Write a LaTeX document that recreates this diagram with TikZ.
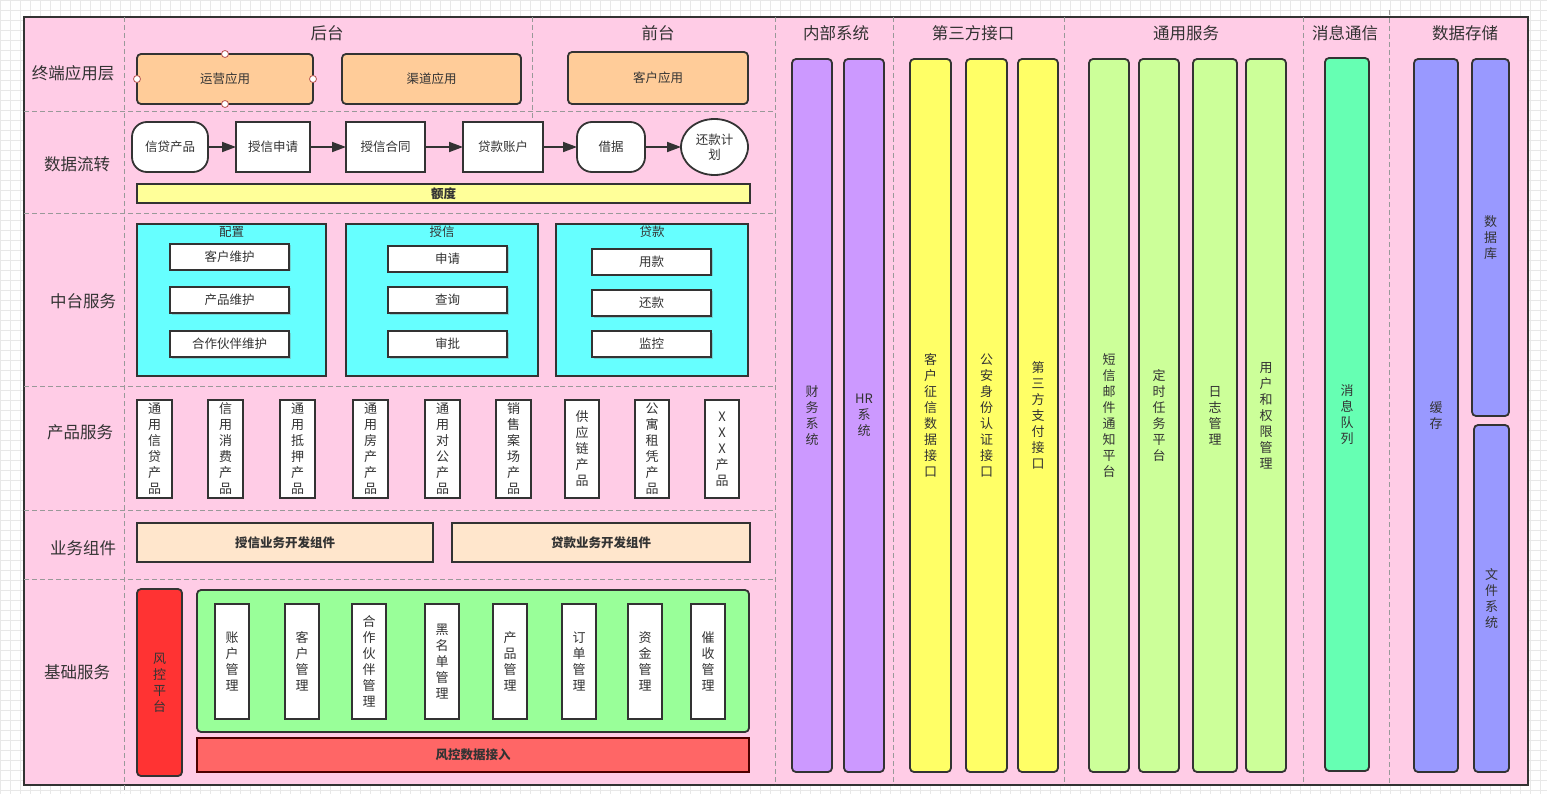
\documentclass[tikz,border=0pt]{standalone}
\usepackage{fontspec}
\setmainfont{Noto Sans CJK SC}
\usetikzlibrary{arrows.meta,shapes.geometric,shadows}
\definecolor{pinkbg}{HTML}{FFCCE6}
\definecolor{ln}{HTML}{333333}
\definecolor{txt}{HTML}{333333}
\definecolor{dshc}{HTML}{999999}
\definecolor{gridc}{HTML}{E8E8E8}
\definecolor{orng}{HTML}{FFCC99}
\definecolor{lyel}{HTML}{FFFF99}
\definecolor{cyn}{HTML}{66FFFF}
\definecolor{peach}{HTML}{FFE6CC}
\definecolor{redA}{HTML}{FF3333}
\definecolor{grn}{HTML}{99FF99}
\definecolor{redB}{HTML}{FF6666}
\definecolor{redBln}{HTML}{4D0000}
\definecolor{purp}{HTML}{CC99FF}
\definecolor{yel}{HTML}{FFFF66}
\definecolor{lime}{HTML}{CCFF99}
\definecolor{mint}{HTML}{66FFB3}
\definecolor{blu}{HTML}{9999FF}
\definecolor{hnd}{HTML}{B85450}
\newcommand\fs{\fontsize{12.5}{15}\selectfont}
\newcommand\fv{\fontsize{13}{16}\selectfont}
\newcommand\fl{\fontsize{16.5}{20}\selectfont}
\newcommand\B[7]{\node[#1,anchor=north west,minimum width=#4pt-#2pt,minimum height=#5pt-#3pt] (#6) at (#2,#3) {#7};}
\tikzset{
  bx/.style={draw=ln, line width=1.8pt, outer sep=0pt, inner sep=0pt, text=txt, font=\fs, align=center},
  rbx/.style={bx, rounded corners=4pt},
  vbx/.style={bx, font=\fv},
  tall/.style={rbx, font=\fv},
  subbox/.style={bx, fill=white, drop shadow={shadow xshift=1.5pt, shadow yshift=-1.5pt, opacity=0.35}},
  dsh/.style={draw=dshc, line width=0.9pt, dash pattern=on 5pt off 3pt},
  lbl/.style={text=txt, font=\fl, inner sep=0pt},
  ttl/.style={text=txt, font=\fs, inner sep=0pt},
  arr/.style={draw=ln, line width=1.8pt, -{Triangle[length=14pt,width=10pt]}},
  handle/.style={circle, draw=hnd, fill=white, line width=0.8pt, inner sep=0pt, minimum size=7pt}
}
\begin{document}
\begin{tikzpicture}[x=1pt,y=-1pt]
\useasboundingbox (0,0) rectangle (1547,794);
\fill[white] (0,0) rectangle (1547,794);
\foreach \gx in {0,10,...,1540} \draw[gridc, line width=0.7pt] (\gx,0) -- (\gx,794);
\foreach \gy in {0,10,...,790} \draw[gridc, line width=0.7pt] (0,\gy) -- (1547,\gy);
% frame
\draw[ln, fill=pinkbg, line width=2pt] (24,17) rectangle (1528,785);
% dashed lines
\foreach \hy in {111,213,386,510,579} \draw[dsh] (24,\hy) -- (775,\hy);
\draw[dsh] (124,17) -- (124,793);
\draw[dsh] (532,17) -- (532,121);
\foreach \vx in {775,893,1064,1303} \draw[dsh] (\vx,17) -- (\vx,785);
\draw[dsh] (1389,10) -- (1389,785);
% row labels
\node[lbl] (l1) at (73,73) {终端应用层};
\node[lbl] (l2) at (77,164) {数据流转};
\node[lbl] (l3) at (83,301) {中台服务};
\node[lbl] (l4) at (80,432) {产品服务};
\node[lbl] (l5) at (83,548) {业务组件};
\node[lbl] (l6) at (77,672) {基础服务};
% column headers
\node[lbl] (h1) at (327,33) {后台};
\node[lbl] (h2) at (658,33) {前台};
\node[lbl] (h3) at (836,33) {内部系统};
\node[lbl] (h4) at (973,33) {第三方接口};
\node[lbl] (h5) at (1186,33) {通用服务};
\node[lbl] (h6) at (1345,33) {消息通信};
\node[lbl] (h7) at (1465,33) {数据存储};
% row 1
\B{rbx,fill=orng}{137}{54}{313}{104}{yy}{运营应用}
\B{rbx,fill=orng}{342}{54}{521}{104}{qd}{渠道应用}
\B{rbx,fill=orng}{568}{52}{748}{104}{kh}{客户应用}
\node[handle] (hA) at (yy.north) {};
\node[handle] (hB) at (yy.south) {};
\node[handle] (hC) at (yy.west) {};
\node[handle] (hD) at (yy.east) {};
% row 2
\B{bx,fill=white,rounded corners=15pt}{132}{122}{208}{172}{xd}{信贷产品}
\B{bx,fill=white}{236}{122}{310}{172}{sq}{授信申请}
\B{bx,fill=white}{346}{122}{425}{172}{ht}{授信合同}
\B{bx,fill=white}{463}{122}{543}{172}{zh}{贷款账户}
\B{bx,fill=white,rounded corners=15pt}{577}{122}{645}{172}{jj}{借据}
\node[bx,fill=white,ellipse,minimum width=67pt,minimum height=56pt] (hk) at (714.5,147) {还款计\\划};
\draw[arr] (xd.east) -- (sq.west);
\draw[arr] (sq.east) -- (ht.west);
\draw[arr] (ht.east) -- (zh.west);
\draw[arr] (zh.east) -- (jj.west);
\draw[arr] (jj.east) -- (hk.west);
\B{bx,fill=lyel,font=\fs\bfseries}{137}{184}{750}{203}{ed}{额度}
% row 3
\B{bx,fill=cyn}{137}{224}{326}{376}{pz}{}
\node[ttl] (pzt) at (231.5,232) {配置};
\B{subbox}{170}{244}{289}{270}{pz1}{客户维护}
\B{subbox}{170}{287}{289}{313}{pz2}{产品维护}
\B{subbox}{170}{331}{289}{357}{pz3}{合作伙伴维护}
\B{bx,fill=cyn}{346}{224}{538}{376}{sx}{}
\node[ttl] (sxt) at (442,232) {授信};
\B{subbox}{388}{246}{507}{272}{sx1}{申请}
\B{subbox}{388}{287}{507}{313}{sx2}{查询}
\B{subbox}{388}{331}{507}{357}{sx3}{审批}
\B{bx,fill=cyn}{556}{224}{748}{376}{dk}{}
\node[ttl] (dkt) at (652,232) {贷款};
\B{subbox}{592}{249}{711}{275}{dk1}{用款}
\B{subbox}{592}{290}{711}{316}{dk2}{还款}
\B{subbox}{592}{331}{711}{357}{dk3}{监控}
% row 4
\B{vbx,fill=white}{137}{400}{172}{498}{p1}{通\\用\\信\\贷\\产\\品}
\B{vbx,fill=white}{208}{400}{243}{498}{p2}{信\\用\\消\\费\\产\\品}
\B{vbx,fill=white}{280}{400}{315}{498}{p3}{通\\用\\抵\\押\\产\\品}
\B{vbx,fill=white}{353}{400}{388}{498}{p4}{通\\用\\房\\产\\产\\品}
\B{vbx,fill=white}{425}{400}{460}{498}{p5}{通\\用\\对\\公\\产\\品}
\B{vbx,fill=white}{496}{400}{531}{498}{p6}{销\\售\\案\\场\\产\\品}
\B{vbx,fill=white}{565}{400}{599}{498}{p7}{供\\应\\链\\产\\品}
\B{vbx,fill=white}{635}{400}{669}{498}{p8}{公\\寓\\租\\凭\\产\\品}
\B{vbx,fill=white}{705}{400}{739}{498}{p9}{X\\X\\X\\产\\品}
% row 5
\B{bx,fill=peach,font=\fs\bfseries}{137}{523}{433}{562}{c1}{授信业务开发组件}
\B{bx,fill=peach,font=\fs\bfseries}{452}{523}{750}{562}{c2}{贷款业务开发组件}
% row 6
\B{rbx,fill=redA,font=\fv}{137}{589}{182}{776}{fk}{风\\控\\平\\台}
\B{rbx,fill=grn}{197}{590}{749}{732}{jc}{}
\B{vbx,fill=white}{215}{604}{249}{719}{b1}{账\\户\\管\\理}
\B{vbx,fill=white}{285}{604}{319}{719}{b2}{客\\户\\管\\理}
\B{vbx,fill=white}{352}{604}{386}{719}{b3}{合\\作\\伙\\伴\\管\\理}
\B{vbx,fill=white}{425}{604}{459}{719}{b4}{黑\\名\\单\\管\\理}
\B{vbx,fill=white}{493}{604}{527}{719}{b5}{产\\品\\管\\理}
\B{vbx,fill=white}{562}{604}{596}{719}{b6}{订\\单\\管\\理}
\B{vbx,fill=white}{628}{604}{662}{719}{b7}{资\\金\\管\\理}
\B{vbx,fill=white}{691}{604}{725}{719}{b8}{催\\收\\管\\理}
\B{bx,fill=redB,draw=redBln,font=\fs\bfseries}{197}{738}{749}{772}{fkd}{风控数据接入}
% right columns
\B{tall,fill=purp}{792}{59}{832}{772}{cw}{财\\务\\系\\统}
\B{tall,fill=purp}{844}{59}{884}{772}{hr}{HR\\系\\统}
\B{tall,fill=yel}{910}{59}{951}{772}{zx}{客\\户\\征\\信\\数\\据\\接\\口}
\B{tall,fill=yel}{966}{59}{1007}{772}{ga}{公\\安\\身\\份\\认\\证\\接\\口}
\B{tall,fill=yel}{1018}{59}{1058}{772}{zf}{第\\三\\方\\支\\付\\接\\口}
\B{tall,fill=lime}{1089}{59}{1129}{772}{dx}{短\\信\\邮\\件\\通\\知\\平\\台}
\B{tall,fill=lime}{1139}{59}{1179}{772}{ds}{定\\时\\任\\务\\平\\台}
\B{tall,fill=lime}{1193}{59}{1237}{772}{rz}{日\\志\\管\\理}
\B{tall,fill=lime}{1246}{59}{1286}{772}{qx}{用\\户\\和\\权\\限\\管\\理}
\B{tall,fill=mint}{1325}{58}{1369}{771}{mq}{消\\息\\队\\列}
\B{tall,fill=blu}{1414}{59}{1458}{772}{hc}{缓\\存}
\B{tall,fill=blu}{1472}{59}{1509}{416}{db}{数\\据\\库}
\B{tall,fill=blu}{1474}{425}{1509}{772}{wj}{文\\件\\系\\统}
\end{tikzpicture}
\end{document}
